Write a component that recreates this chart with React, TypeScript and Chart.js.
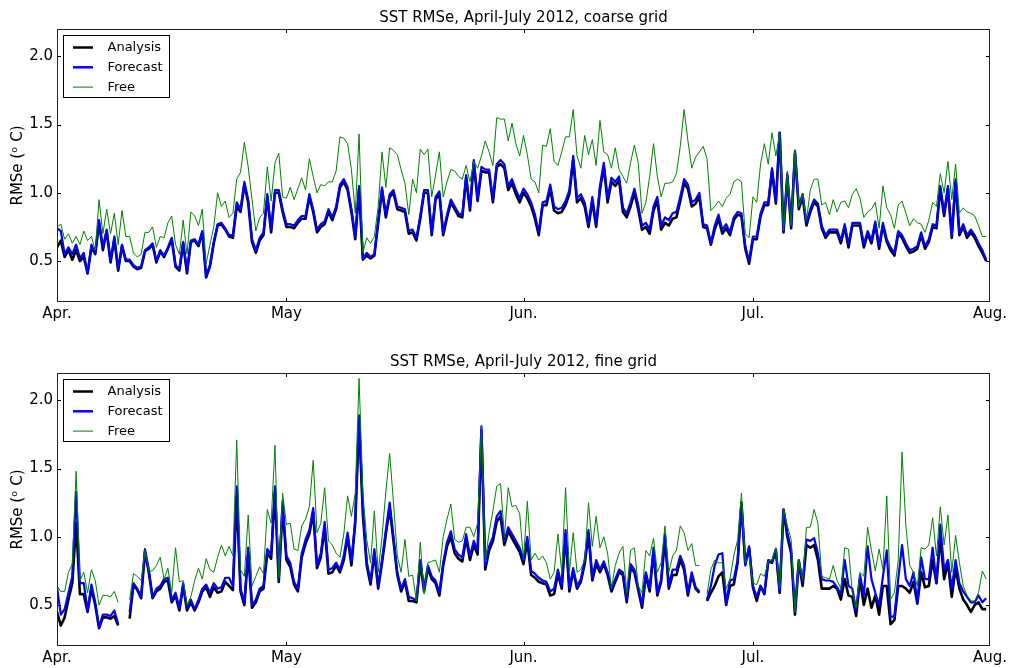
import React, { useEffect, useRef } from "react";
import { Chart, registerables } from "chart.js";

Chart.register(...registerables);

// ---- axis ticks / categories ----
const X_TICKS = [0, 30, 61, 91, 122]; // days since 1 April 2012
const X_TICK_LABELS = ["Apr.", "May", "Jun.", "Jul.", "Aug."];
const Y_TICKS = [0.5, 1.0, 1.5, 2.0];
const SERIES_NAMES = ["Analysis", "Forecast", "Free"];
const SERIES_COLORS = ["#000000", "#0000ff", "#008000"];

// ---- coarse grid (twice daily samples, starting 1 April) ----
const coarseAnalysis = [
  0.60, 0.65, 0.53, 0.58, 0.51, 0.58, 0.50, 0.53, 0.41, 0.60, 0.55, 0.78,
  0.58, 0.72, 0.49, 0.66, 0.43, 0.61, 0.50, 0.50, 0.46, 0.44, 0.45, 0.57,
  0.59, 0.62, 0.49, 0.57, 0.53, 0.59, 0.66, 0.46, 0.43, 0.63, 0.41, 0.64,
  0.65, 0.61, 0.71, 0.38, 0.46, 0.63, 0.76, 0.77, 0.73, 0.68, 0.67, 0.90,
  0.86, 1.06, 0.93, 0.64, 0.56, 0.65, 0.69, 0.97, 0.71, 1.00, 1.00, 0.86,
  0.75, 0.75, 0.74, 0.78, 0.81, 0.81, 0.97, 0.86, 0.71, 0.75, 0.77, 0.86,
  0.80, 0.88, 1.04, 1.08, 1.02, 0.86, 0.66, 1.03, 0.51, 0.54, 0.52, 0.54,
  0.78, 1.02, 0.82, 0.97, 1.00, 0.88, 0.87, 0.86, 0.70, 0.71, 0.65, 0.81,
  1.00, 1.00, 0.69, 0.95, 0.99, 0.69, 0.82, 0.93, 0.88, 0.83, 0.82, 1.11,
  0.87, 1.22, 0.94, 1.16, 1.15, 1.15, 0.93, 1.19, 1.21, 1.18, 1.02, 1.07,
  0.99, 0.93, 1.00, 0.96, 0.90, 0.81, 0.69, 0.91, 0.91, 1.03, 0.87, 0.85,
  0.86, 0.91, 0.99, 1.24, 0.93, 0.96, 0.90, 0.75, 0.94, 0.75, 1.02, 1.19,
  0.93, 1.08, 1.05, 1.09, 0.86, 0.82, 0.90, 1.00, 0.88, 0.73, 0.75, 0.70,
  0.87, 0.94, 0.73, 0.78, 0.76, 0.81, 0.82, 0.94, 1.07, 1.03, 0.90, 0.92,
  0.97, 0.75, 0.74, 0.62, 0.73, 0.81, 0.70, 0.74, 0.69, 0.80, 0.84, 0.83,
  0.59, 0.48, 0.66, 0.66, 0.83, 0.91, 0.91, 1.16, 0.92, 1.44, 0.71, 1.12,
  0.74, 1.29, 0.88, 0.97, 0.76, 0.86, 0.93, 0.90, 0.74, 0.67, 0.71, 0.71,
  0.71, 0.63, 0.75, 0.60, 0.76, 0.76, 0.76, 0.60, 0.70, 0.63, 0.77, 0.59,
  0.76, 0.64, 0.58, 0.54, 0.70, 0.67, 0.61, 0.56, 0.57, 0.59, 0.69, 0.59,
  0.64, 0.75, 0.74, 1.03, 0.83, 1.03, 0.67, 1.08, 0.69, 0.75, 0.67, 0.71,
  0.67, 0.61, 0.56, 0.50,
];

const coarseForecast = [
  0.74, 0.72, 0.55, 0.60, 0.55, 0.62, 0.52, 0.56, 0.41, 0.62, 0.56, 0.80,
  0.60, 0.73, 0.50, 0.68, 0.44, 0.62, 0.51, 0.51, 0.47, 0.45, 0.46, 0.58,
  0.60, 0.63, 0.50, 0.58, 0.54, 0.60, 0.67, 0.47, 0.44, 0.64, 0.42, 0.65,
  0.66, 0.62, 0.72, 0.39, 0.47, 0.64, 0.77, 0.78, 0.74, 0.69, 0.69, 0.93,
  0.88, 1.08, 0.95, 0.66, 0.58, 0.67, 0.71, 0.99, 0.73, 1.02, 1.02, 0.88,
  0.77, 0.77, 0.76, 0.80, 0.83, 0.83, 0.99, 0.88, 0.73, 0.77, 0.79, 0.88,
  0.82, 0.90, 1.06, 1.10, 1.04, 0.88, 0.68, 1.05, 0.52, 0.56, 0.53, 0.55,
  0.80, 1.04, 0.84, 0.99, 1.02, 0.90, 0.89, 0.88, 0.72, 0.73, 0.67, 0.83,
  1.02, 1.02, 0.71, 0.97, 1.01, 0.71, 0.84, 0.95, 0.90, 0.85, 0.84, 1.13,
  0.89, 1.24, 0.96, 1.19, 1.17, 1.17, 0.95, 1.21, 1.24, 1.21, 1.05, 1.10,
  1.02, 0.96, 1.03, 0.99, 0.93, 0.84, 0.71, 0.93, 0.94, 1.06, 0.90, 0.88,
  0.89, 0.94, 1.02, 1.27, 0.96, 0.99, 0.93, 0.77, 0.97, 0.77, 1.05, 1.22,
  0.96, 1.11, 1.08, 1.12, 0.89, 0.85, 0.93, 1.03, 0.91, 0.76, 0.78, 0.73,
  0.90, 0.97, 0.76, 0.82, 0.80, 0.85, 0.86, 0.97, 1.10, 1.06, 0.93, 0.95,
  1.00, 0.77, 0.76, 0.63, 0.76, 0.84, 0.73, 0.77, 0.71, 0.82, 0.86, 0.85,
  0.61, 0.50, 0.68, 0.68, 0.85, 0.93, 0.93, 1.18, 0.94, 1.44, 0.73, 1.14,
  0.76, 1.31, 0.90, 0.99, 0.78, 0.88, 0.95, 0.92, 0.76, 0.69, 0.73, 0.73,
  0.73, 0.65, 0.77, 0.62, 0.78, 0.78, 0.78, 0.62, 0.72, 0.65, 0.79, 0.61,
  0.78, 0.66, 0.60, 0.56, 0.72, 0.69, 0.63, 0.58, 0.59, 0.61, 0.71, 0.61,
  0.66, 0.77, 0.76, 1.05, 0.85, 1.05, 0.69, 1.10, 0.71, 0.77, 0.69, 0.73,
  0.69, 0.63, 0.58, 0.51,
];

const coarseFree = [
  0.75, 0.77, 0.66, 0.70, 0.63, 0.68, 0.62, 0.72, 0.65, 0.68, 0.58, 0.95,
  0.70, 0.88, 0.70, 0.85, 0.62, 0.87, 0.68, 0.68, 0.56, 0.53, 0.55, 0.71,
  0.71, 0.75, 0.60, 0.68, 0.67, 0.78, 0.83, 0.62, 0.55, 0.80, 0.55, 0.86,
  0.83, 0.76, 0.88, 0.48, 0.62, 0.75, 1.00, 0.90, 0.94, 0.82, 0.85, 1.10,
  1.15, 1.37, 1.19, 0.95, 0.72, 0.82, 0.85, 1.19, 0.94, 1.22, 1.29, 0.97,
  0.96, 1.04, 0.95, 1.03, 1.11, 1.02, 1.25, 1.12, 1.00, 1.06, 1.05, 1.08,
  1.08, 1.16, 1.41, 1.40, 1.36, 1.17, 0.85, 1.43, 0.56, 0.67, 0.63, 0.68,
  0.90, 1.30, 1.04, 1.33, 1.31, 1.28, 1.17, 1.07, 0.84, 1.10, 1.00, 1.32,
  1.28, 1.32, 0.97, 1.13, 1.30, 0.97, 1.08, 1.17, 1.16, 1.12, 1.10, 1.20,
  1.08, 1.23, 1.18, 1.27, 1.38, 1.30, 1.20, 1.55, 1.54, 1.54, 1.38, 1.51,
  1.36, 1.27, 1.42, 1.28, 1.10, 1.08, 1.00, 1.35, 1.34, 1.47, 1.23, 1.20,
  1.30, 1.41, 1.41, 1.61, 1.27, 1.18, 1.42, 1.28, 1.39, 1.20, 1.53, 1.30,
  1.28, 1.18, 1.33, 1.17, 1.12, 1.07, 1.22, 1.35, 1.22, 0.85, 0.93, 1.12,
  1.36, 1.12, 0.97, 1.07, 1.07, 1.08, 1.14, 1.34, 1.61, 1.38, 1.18, 1.26,
  1.30, 1.34, 1.25, 0.87, 0.90, 0.94, 0.90, 0.96, 0.99, 1.08, 1.10, 1.08,
  0.70, 0.67, 0.97, 0.93, 1.21, 1.36, 1.21, 1.44, 1.27, 1.44, 0.72, 1.16,
  0.76, 1.31, 0.90, 0.99, 0.80, 1.02, 1.10, 1.10, 0.91, 0.93, 0.84, 0.95,
  0.86, 0.93, 0.94, 0.89, 0.99, 1.03, 0.96, 0.82, 0.86, 0.88, 0.93, 0.74,
  1.05, 0.89, 0.84, 0.74, 0.91, 0.94, 0.85, 0.76, 0.81, 0.78, 0.77, 0.71,
  0.80, 0.93, 0.90, 1.14, 1.00, 1.23, 0.95, 1.21, 0.85, 0.89, 0.86, 0.85,
  0.83, 0.76, 0.68, 0.68,
];

// ---- fine grid (twice daily samples, null = missing) ----
const fineAnalysis = [
  0.45, 0.35, 0.41, 0.54, 0.66, 1.10, 0.58, 0.58, 0.45, 0.62, 0.50, 0.33,
  0.41, 0.41, 0.40, 0.42, 0.35, null, null, 0.40, 0.65, 0.61, 0.55, 0.89,
  0.74, 0.55, 0.60, 0.62, 0.67, 0.68, 0.52, 0.57, 0.46, 0.64, 0.46, 0.52,
  0.46, 0.52, 0.60, 0.63, 0.56, 0.63, 0.59, 0.60, 0.67, 0.64, 0.61, 1.30,
  0.60, 0.50, 0.88, 0.48, 0.52, 0.60, 0.62, 0.88, 0.84, 1.33, 0.67, 1.22,
  0.83, 0.78, 0.65, 0.60, 0.85, 0.95, 1.02, 1.18, 0.77, 0.85, 1.07, 0.73,
  0.74, 0.79, 0.74, 0.83, 1.00, 0.79, 1.10, 1.85, 1.16, 0.79, 0.65, 0.88,
  0.62, 0.81, 1.02, 1.21, 0.97, 0.72, 0.60, 0.67, 0.53, 0.53, 0.52, 0.81,
  0.60, 0.77, 0.69, 0.66, 0.57, 0.79, 0.93, 1.00, 0.88, 0.84, 0.82, 0.99,
  0.83, 0.94, 0.87, 1.78, 0.76, 0.90, 0.97, 1.11, 1.15, 0.94, 1.04, 0.99,
  0.94, 0.89, 0.80, 0.97, 0.72, 0.70, 0.67, 0.66, 0.65, 0.57, 0.58, 0.73,
  0.62, 1.02, 0.60, 0.75, 0.62, 0.67, 0.80, 1.02, 0.68, 0.80, 0.74, 0.80,
  0.72, 0.60, 0.67, 0.74, 0.72, 0.52, 0.77, 0.74, 0.61, 0.48, 0.72, 0.60,
  0.89, 0.57, 0.67, 0.99, 0.62, 0.72, 0.72, 0.83, 0.76, 0.57, 0.72, 0.62,
  0.59, null, 0.53, 0.59, 0.64, 0.71, 0.74, 0.50, 0.64, 0.65, 0.81, 1.25,
  0.80, 0.92, 0.63, 0.53, 0.64, 0.58, 0.82, 0.81, 0.90, 0.59, 1.20, 1.00,
  0.88, 0.43, 0.82, 0.64, 0.94, 0.92, 0.94, 0.83, 0.62, 0.62, 0.62, 0.64,
  0.62, 0.54, 0.69, 0.57, 0.56, 0.42, 0.69, 0.50, 0.62, 0.48, 0.57, 0.43,
  0.64, 0.64, 0.36, 0.39, 0.64, 0.64, 0.62, 0.59, 0.67, 0.51, 0.74, 0.63,
  0.64, 0.83, 0.66, 1.00, 0.69, 0.81, 0.56, 0.77, 0.62, 0.54, 0.50, 0.45,
  0.50, 0.52, 0.47, 0.47,
];

const fineForecast = [
  0.63, 0.43, 0.47, 0.59, 0.71, 1.33, 0.66, 0.66, 0.46, 0.65, 0.52, 0.34,
  0.43, 0.43, 0.42, 0.46, 0.36, null, null, 0.45, 0.66, 0.62, 0.56, 0.91,
  0.76, 0.56, 0.62, 0.64, 0.69, 0.70, 0.54, 0.59, 0.48, 0.66, 0.48, 0.54,
  0.47, 0.54, 0.62, 0.65, 0.59, 0.66, 0.62, 0.63, 0.70, 0.70, 0.64, 1.37,
  0.62, 0.52, 0.92, 0.50, 0.54, 0.62, 0.64, 0.91, 0.87, 1.37, 0.69, 1.26,
  0.86, 0.81, 0.67, 0.62, 0.88, 0.98, 1.05, 1.21, 0.79, 0.88, 1.11, 0.76,
  0.77, 0.81, 0.76, 0.86, 1.03, 0.82, 1.13, 1.89, 1.20, 0.82, 0.67, 0.91,
  0.64, 0.83, 1.05, 1.25, 1.00, 0.74, 0.62, 0.69, 0.56, 0.55, 0.53, 0.83,
  0.62, 0.79, 0.71, 0.68, 0.59, 0.81, 0.96, 1.04, 0.91, 0.87, 0.85, 1.02,
  0.86, 0.97, 0.90, 1.81, 0.79, 0.93, 1.00, 1.15, 1.19, 0.97, 1.07, 1.02,
  0.97, 0.92, 0.83, 1.00, 0.75, 0.73, 0.70, 0.68, 0.67, 0.60, 0.62, 0.76,
  0.64, 1.05, 0.62, 0.77, 0.64, 0.69, 0.83, 1.05, 0.70, 0.83, 0.76, 0.82,
  0.74, 0.62, 0.69, 0.76, 0.74, 0.54, 0.80, 0.76, 0.63, 0.50, 0.74, 0.62,
  0.92, 0.59, 0.69, 1.02, 0.64, 0.76, 0.76, 0.86, 0.79, 0.59, 0.74, 0.63,
  0.60, null, 0.54, 0.64, 0.79, 0.87, 0.88, 0.51, 0.68, 0.69, 0.83, 1.25,
  0.79, 0.93, 0.64, 0.56, 0.64, 0.59, 0.83, 0.82, 0.91, 0.60, 1.20, 1.03,
  0.91, 0.45, 0.83, 0.67, 0.98, 0.97, 0.99, 0.88, 0.69, 0.68, 0.68, 0.67,
  0.63, 0.58, 0.83, 0.64, 0.62, 0.46, 0.72, 0.57, 0.93, 0.69, 0.59, 0.50,
  0.71, 0.90, 0.41, 0.42, 0.69, 0.94, 0.69, 0.64, 0.74, 0.52, 0.85, 0.69,
  0.69, 0.92, 0.66, 1.09, 0.76, 0.83, 0.62, 0.83, 0.66, 0.60, 0.56, 0.52,
  0.52, 0.57, 0.52, 0.55,
];

const fineFree = [
  0.64, 0.60, 0.60, 0.74, 0.80, 1.48, 0.68, 0.74, 0.59, 0.76, 0.68, 0.50,
  0.57, 0.57, 0.56, 0.60, 0.52, null, null, 0.54, 0.73, 0.71, 0.68, 0.90,
  0.75, 0.75, 0.79, 0.85, 0.69, 0.77, 0.59, 0.92, 0.67, 0.68, 0.50, 0.56,
  0.68, 0.77, 0.69, 0.84, 0.76, 0.74, 0.85, 0.94, 0.86, 0.93, 0.86, 1.71,
  0.76, 0.71, 1.16, 0.64, 0.71, 0.78, 0.73, 1.20, 1.10, 1.67, 0.70, 1.32,
  1.09, 1.10, 0.91, 0.90, 1.08, 1.13, 1.22, 1.56, 1.03, 1.10, 1.36, 0.97,
  0.94, 0.88, 0.85, 1.02, 1.30, 1.15, 1.32, 2.16, 1.32, 0.98, 0.81, 1.19,
  0.74, 1.00, 1.33, 1.61, 1.25, 0.86, 0.74, 0.98, 0.71, 0.72, 0.53, 0.96,
  0.58, 0.81, 0.82, 0.83, 0.74, 1.00, 1.13, 1.24, 0.98, 0.96, 0.97, 1.07,
  1.07, 1.00, 1.10, 1.81, 0.82, 1.03, 1.19, 1.37, 1.39, 1.00, 1.36, 1.22,
  1.23, 1.17, 0.83, 1.26, 0.83, 0.88, 0.83, 0.86, 0.81, 0.69, 0.74, 1.02,
  0.74, 1.36, 0.74, 1.03, 0.74, 0.76, 0.83, 1.25, 0.93, 1.15, 0.92, 1.00,
  0.88, 0.62, 0.79, 0.88, 0.93, 0.59, 0.90, 0.92, 0.64, 0.59, 0.90, 0.86,
  0.99, 0.74, 0.81, 1.08, 0.74, 0.86, 0.90, 1.08, 1.03, 0.90, 0.95, 0.79,
  0.79, null, 0.58, 0.76, 0.83, 0.81, 0.81, 0.62, 0.69, 0.86, 0.98, 1.32,
  0.81, 0.86, 0.66, 0.65, 0.73, 0.71, 0.82, 0.83, 0.92, 0.62, 1.21, 1.08,
  0.98, 0.45, 0.83, 0.69, 1.07, 1.07, 1.20, 1.10, 0.71, 0.70, 0.69, 0.79,
  0.68, 0.62, 0.92, 0.91, 0.59, 0.48, 0.74, 0.71, 1.07, 0.90, 0.75, 0.91,
  0.76, 1.30, 0.54, 0.59, 0.83, 1.62, 1.08, 0.79, 0.74, 0.64, 0.92, 0.91,
  0.94, 1.14, 0.86, 1.22, 0.94, 1.16, 0.74, 1.01, 0.81, 0.64, 0.57, 0.53,
  0.53, 0.59, 0.75, 0.69,
];

const FONT = "'DejaVu Sans', sans-serif";

const mplPlugin = {
  id: "mplDecor",
  afterDatasetsDraw(chart: any) {
    const { ctx, chartArea: a, scales } = chart;
    const x = scales.x;
    const y = scales.y;
    ctx.save();
    ctx.strokeStyle = "#000";
    ctx.lineWidth = 1;
    // inward ticks (interior ones; the end ticks coincide with the spines)
    ctx.beginPath();
    X_TICKS.slice(1, -1).forEach((v) => {
      const px = Math.round(x.getPixelForValue(v)) + 0.5;
      ctx.moveTo(px, a.bottom);
      ctx.lineTo(px, a.bottom - 4);
      ctx.moveTo(px, a.top);
      ctx.lineTo(px, a.top + 4);
    });
    Y_TICKS.forEach((v) => {
      const py = Math.round(y.getPixelForValue(v)) + 0.5;
      ctx.moveTo(a.left, py);
      ctx.lineTo(a.left + 4, py);
      ctx.moveTo(a.right, py);
      ctx.lineTo(a.right - 4, py);
    });
    ctx.stroke();
    // frame
    ctx.strokeStyle = "#222";
    ctx.strokeRect(a.left + 0.5, a.top + 0.5, a.right - a.left - 1, a.bottom - a.top - 1);

    // legend box (upper left, inside axes)
    const bx = a.left + 6.5;
    const by = a.top + 6.5;
    ctx.fillStyle = "#fff";
    ctx.fillRect(bx, by, 106, 62);
    ctx.strokeStyle = "#000";
    ctx.lineWidth = 1;
    ctx.strokeRect(bx, by, 106, 62);
    const widths = [2.5, 2.5, 1];
    ctx.font = `13px ${FONT}`;
    ctx.textBaseline = "middle";
    ctx.textAlign = "left";
    SERIES_NAMES.forEach((name, i) => {
      const ly = by + 12 + i * 19.8;
      ctx.beginPath();
      ctx.strokeStyle = SERIES_COLORS[i];
      ctx.lineWidth = widths[i];
      ctx.moveTo(bx + 9.5, ly);
      ctx.lineTo(bx + 29.5, ly);
      ctx.stroke();
      ctx.fillStyle = "#000";
      ctx.fillText(name, bx + 44, ly + 0.5);
    });
    ctx.restore();
  },
};

type PanelProps = {
  title: string;
  analysis: (number | null)[];
  forecast: (number | null)[];
  free: (number | null)[];
  titleTop: number;
  xAxisHeight: number;
};

const toPoints = (vals: (number | null)[]) => vals.map((v, i) => ({ x: i / 2, y: v }));

function RmsePanel({ title, analysis, forecast, free, titleTop, xAxisHeight }: PanelProps) {
  const ref = useRef<HTMLCanvasElement>(null);
  useEffect(() => {
    const tickFont = { family: FONT, size: 15 };
    const chart = new Chart(ref.current as HTMLCanvasElement, {
      type: "line",
      data: {
        datasets: [
          {
            label: SERIES_NAMES[0],
            data: toPoints(analysis),
            borderColor: SERIES_COLORS[0],
            borderWidth: 2.6,
            order: 3,
          },
          {
            label: SERIES_NAMES[1],
            data: toPoints(forecast),
            borderColor: SERIES_COLORS[1],
            borderWidth: 2.2,
            order: 2,
          },
          {
            label: SERIES_NAMES[2],
            data: toPoints(free),
            borderColor: SERIES_COLORS[2],
            borderWidth: 1,
            order: 1,
          },
        ] as any,
      },
      options: {
        animation: false,
        responsive: false,
        devicePixelRatio: 1,
        spanGaps: false,
        elements: {
          point: { radius: 0, hoverRadius: 0 },
          line: { tension: 0, borderJoinStyle: "round", borderCapStyle: "butt", fill: false },
        },
        layout: { padding: { left: 0, right: 21, top: 0, bottom: 0 } },
        plugins: {
          legend: { display: false },
          tooltip: { enabled: false },
          title: {
            display: true,
            text: title,
            fullSize: false,
            color: "#000",
            font: { family: FONT, size: 15, weight: "normal" },
            padding: { top: titleTop, bottom: 2 },
          },
        },
        scales: {
          x: {
            type: "linear",
            min: 0,
            max: 122,
            grid: { display: false, drawTicks: false },
            border: { display: false },
            afterBuildTicks: (s: any) => {
              s.ticks = X_TICKS.map((v) => ({ value: v }));
            },
            ticks: {
              autoSkip: false,
              maxRotation: 0,
              padding: 3,
              color: "#000",
              font: tickFont,
              callback: (v: any) => X_TICK_LABELS[X_TICKS.indexOf(Number(v))],
            },
            afterFit: (s: any) => {
              s.height = xAxisHeight;
            },
          },
          y: {
            type: "linear",
            min: 0.2,
            max: 2.2,
            grid: { display: false, drawTicks: false },
            border: { display: false },
            afterBuildTicks: (s: any) => {
              s.ticks = Y_TICKS.map((v) => ({ value: v }));
            },
            ticks: {
              padding: 4,
              color: "#000",
              font: tickFont,
              callback: (v: any) => Number(v).toFixed(1),
            },
            title: {
              display: true,
              text: "RMSe (ᵒ C)",
              color: "#000",
              font: { family: FONT, size: 15 },
              padding: { top: 9, bottom: 0 },
            },
            afterFit: (s: any) => {
              s.width = 57;
            },
          },
        },
      } as any,
      plugins: [mplPlugin],
    });
    return () => chart.destroy();
  }, []);
  return (
    <canvas
      ref={ref}
      width={1011}
      height={334}
      style={{ display: "block", width: 1011, height: 334 }}
    />
  );
}

export default function App() {
  return (
    <div
      style={{
        position: "absolute",
        left: 0,
        top: 0,
        width: 1011,
        height: 668,
        background: "#fff",
      }}
    >
      <RmsePanel
        title="SST RMSe, April-July 2012, coarse grid"
        analysis={coarseAnalysis}
        forecast={coarseForecast}
        free={coarseFree}
        titleTop={9}
        xAxisHeight={32}
      />
      <RmsePanel
        title="SST RMSe, April-July 2012, fine grid"
        analysis={fineAnalysis}
        forecast={fineForecast}
        free={fineFree}
        titleTop={19}
        xAxisHeight={22}
      />
    </div>
  );
}
